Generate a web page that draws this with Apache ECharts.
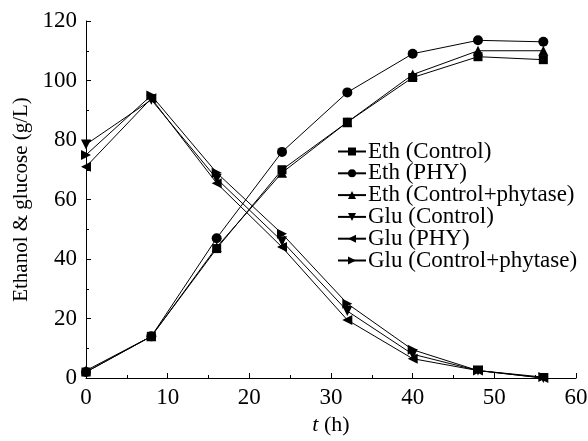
<!DOCTYPE html>
<html>
<head>
<meta charset="utf-8">
<script src="https://cdn.jsdelivr.net/npm/echarts@6/dist/echarts.min.js"></script>
<style>html,body{margin:0;padding:0;background:#fff}#c{width:588px;height:441px}</style>
</head>
<body>
<div id="c"></div>
<script>
var times = [0, 8, 16, 24, 32, 40, 48, 56];
var seriesNames = ['Eth (Control)', 'Eth (PHY)', 'Eth (Control+phytase)', 'Glu (Control)', 'Glu (PHY)', 'Glu (Control+phytase)'];
var ethControl = [2, 14, 43.5, 70, 86, 101, 108, 107];
var ethPHY = [2, 14, 47, 76, 96, 109, 113.5, 113];
var ethCP = [2.5, 14, 44, 69, 86, 102, 110, 110];
var gluControl = [78.5, 93.5, 67, 46, 22.5, 8, 2.5, 0];
var gluPHY = [71, 94, 65.5, 44, 19.5, 6.5, 2.5, 0];
var gluCP = [75, 95, 69, 48.5, 25, 9.5, 2.5, 0.3];
var yTicks = [0, 20, 40, 60, 80, 100, 120];
var xTicks = [0, 10, 20, 30, 40, 50, 60];

var symbols = [
  'rect',
  'circle',
  'triangle',
  'path://M0,0 L10,0 L5,9 Z',
  'path://M9,0 L0,5 L9,10 Z',
  'path://M0,0 L9,5 L0,10 Z'
];
var values = [ethControl, ethPHY, ethCP, gluControl, gluPHY, gluCP];
var sizes = [9, 10, 10, 10, 10, 10];

var series = seriesNames.map(function (n, i) {
  return {
    name: n,
    type: 'line',
    data: times.map(function (t, j) { return [t, values[i][j]]; }),
    symbol: symbols[i],
    symbolSize: sizes[i],
    showAllSymbol: true,
    lineStyle: { color: '#000', width: 1 },
    itemStyle: { color: '#000' },
    z: 10 - i
  };
});

var font = 'Liberation Serif, Times New Roman, serif';
var chart = echarts.init(document.getElementById('c'));
chart.setOption({
  animation: false,
  backgroundColor: '#fff',
  textStyle: { fontFamily: font },
  grid: { left: 86, right: 12, top: 21, bottom: 63, containLabel: false, outerBoundsMode: 'none' },
  legend: {
    orient: 'vertical',
    left: 332,
    top: 135,
    itemWidth: 28,
    itemHeight: 10,
    itemGap: -1.2,
    textStyle: { fontFamily: font, fontSize: 23, color: '#000', padding: [0, 0, 0, -3] },
    data: seriesNames
  },
  xAxis: {
    type: 'value',
    min: xTicks[0],
    max: xTicks[xTicks.length - 1],
    interval: 10,
    name: '{i|t} (h)',
    nameLocation: 'middle',
    nameGap: 36,
    nameTextStyle: {
      fontFamily: font, fontSize: 22, color: '#000',
      rich: { i: { fontStyle: 'italic', fontFamily: font, fontSize: 22, color: '#000' } }
    },
    axisLine: { show: true, onZero: false, lineStyle: { color: '#000', width: 1 } },
    axisTick: { show: true, inside: true, length: 5, lineStyle: { color: '#000' } },
    minorTick: { show: true, splitNumber: 2, length: 3, lineStyle: { color: '#000' } },
    splitLine: { show: false },
    axisLabel: { fontFamily: font, fontSize: 23, color: '#000', margin: 8 }
  },
  yAxis: {
    type: 'value',
    min: yTicks[0],
    max: yTicks[yTicks.length - 1],
    interval: 20,
    name: 'Ethanol & glucose (g/L)',
    nameLocation: 'middle',
    nameGap: 53,
    nameTextStyle: { fontFamily: font, fontSize: 21, color: '#000' },
    axisLine: { show: true, lineStyle: { color: '#000', width: 1 } },
    axisTick: { show: true, inside: true, length: 5, lineStyle: { color: '#000' } },
    minorTick: { show: true, splitNumber: 2, length: 3, lineStyle: { color: '#000' } },
    splitLine: { show: false },
    axisLabel: { fontFamily: font, fontSize: 23, color: '#000', margin: 9 }
  },
  series: series
});
</script>
</body>
</html>
